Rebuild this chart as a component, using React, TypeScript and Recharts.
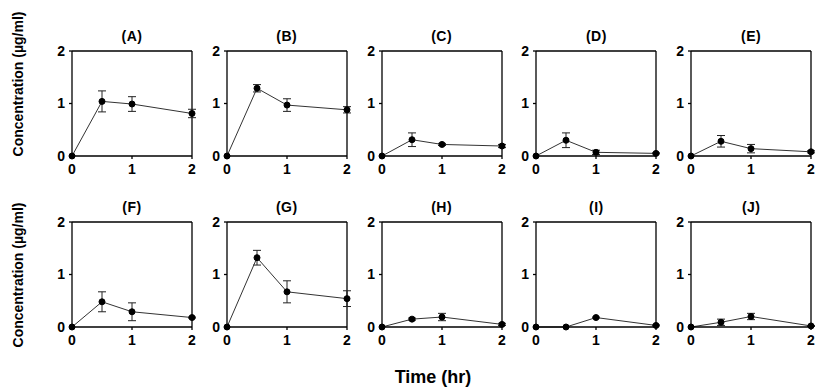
import React from "react";
import { LineChart, Line, XAxis, YAxis, ErrorBar, ReferenceLine } from "recharts";

const TIME = [0, 0.5, 1, 2];
const PANEL_TITLES = ["(A)", "(B)", "(C)", "(D)", "(E)", "(F)", "(G)", "(H)", "(I)", "(J)"];

const MEAN_A = [0, 1.04, 0.99, 0.81];
const SD_A = [0, 0.2, 0.14, 0.08];
const MEAN_B = [0, 1.29, 0.97, 0.88];
const SD_B = [0, 0.07, 0.12, 0.06];
const MEAN_C = [0, 0.31, 0.22, 0.19];
const SD_C = [0, 0.13, 0.02, 0.03];
const MEAN_D = [0, 0.3, 0.07, 0.05];
const SD_D = [0, 0.14, 0.04, 0.01];
const MEAN_E = [0, 0.28, 0.14, 0.08];
const SD_E = [0, 0.11, 0.08, 0.02];
const MEAN_F = [0, 0.48, 0.29, 0.18];
const SD_F = [0, 0.19, 0.17, 0.01];
const MEAN_G = [0, 1.32, 0.67, 0.54];
const SD_G = [0, 0.14, 0.21, 0.15];
const MEAN_H = [0, 0.15, 0.19, 0.05];
const SD_H = [0, 0.02, 0.07, 0.02];
const MEAN_I = [0, 0, 0.18, 0.03];
const SD_I = [0, 0, 0.01, 0.01];
const MEAN_J = [0, 0.09, 0.2, 0.02];
const SD_J = [0, 0.06, 0.06, 0.01];

const MEANS = [MEAN_A, MEAN_B, MEAN_C, MEAN_D, MEAN_E, MEAN_F, MEAN_G, MEAN_H, MEAN_I, MEAN_J];
const SDS = [SD_A, SD_B, SD_C, SD_D, SD_E, SD_F, SD_G, SD_H, SD_I, SD_J];

const X_TICKS = [0, 1, 2];
const Y_TICKS = [0, 1, 2];

// layout of plot areas
const PLOT_LEFT = 72;
const COL_STEP = 154.8;
const PLOT_W = 120;
const PLOT_H = 105;
const ROW_TOP = [51, 222];
const Y_AXIS_W = 40;
const TOP_PAD = 8;

const FONT = '"Liberation Sans", Arial, Helvetica, sans-serif';
const tickStyle = { fontSize: 14, fontWeight: 700, fill: "#000" };

function Panel({ index }: { index: number }) {
  const row = Math.floor(index / 5);
  const col = index % 5;
  const plotLeft = PLOT_LEFT + col * COL_STEP;
  const plotTop = ROW_TOP[row];
  const data = TIME.map((t, i) => ({
    t,
    mean: MEANS[index][i],
    sd: SDS[index][i],
  }));

  return (
    <>
      <div
        style={{
          position: "absolute",
          left: plotLeft,
          top: plotTop - 23,
          width: PLOT_W,
          textAlign: "center",
          fontSize: 14,
          fontWeight: 700,
          lineHeight: "16px",
          letterSpacing: 0.5,
        }}
      >
        {PANEL_TITLES[index]}
      </div>
      <div style={{ position: "absolute", left: plotLeft - Y_AXIS_W, top: plotTop - TOP_PAD }}>
        <LineChart
          width={Y_AXIS_W + PLOT_W + 8}
          height={TOP_PAD + PLOT_H + 27}
          data={data}
          margin={{ top: TOP_PAD, right: 8, bottom: 2, left: 0 }}
        >
          <XAxis
            dataKey="t"
            type="number"
            domain={[0, 2]}
            ticks={X_TICKS}
            tick={tickStyle}
            tickSize={3}
            tickMargin={5}
            height={25}
            stroke="#000"
            strokeWidth={1.3}
          />
          <YAxis
            type="number"
            domain={[0, 2]}
            ticks={Y_TICKS}
            tick={tickStyle}
            tickSize={3}
            tickMargin={4}
            width={Y_AXIS_W}
            stroke="#000"
            strokeWidth={1.3}
          />
          {/* top and right edges of the frame */}
          <ReferenceLine y={2} stroke="#000" strokeWidth={1.3} ifOverflow="visible" />
          <ReferenceLine x={2} stroke="#000" strokeWidth={1.3} ifOverflow="visible" />
          <Line
            dataKey="mean"
            stroke="#333"
            strokeWidth={1}
            dot={{ r: 3, fill: "#000", stroke: "#000", strokeWidth: 1 }}
            isAnimationActive={false}
          >
            <ErrorBar dataKey="sd" width={4} stroke="#222" strokeWidth={1} />
          </Line>
        </LineChart>
      </div>
    </>
  );
}

export default function App() {
  return (
    <div
      style={{
        position: "absolute",
        left: 0,
        top: 0,
        width: 827,
        height: 389,
        background: "#fff",
        fontFamily: FONT,
        color: "#000",
        overflow: "hidden",
      }}
    >
      {PANEL_TITLES.map((_, i) => (
        <Panel key={i} index={i} />
      ))}
      {[84, 275].map((cy) => (
        <div
          key={cy}
          style={{
            position: "absolute",
            left: 18 - 100,
            top: cy - 10,
            width: 200,
            height: 20,
            lineHeight: "20px",
            textAlign: "center",
            fontSize: 14,
            fontWeight: 700,
            transform: "rotate(-90deg)",
          }}
        >
          Concentration (µg/ml)
        </div>
      ))}
      <div
        style={{
          position: "absolute",
          left: 333,
          top: 366,
          width: 200,
          textAlign: "center",
          fontSize: 18,
          fontWeight: 700,
          lineHeight: "22px",
        }}
      >
        Time (hr)
      </div>
    </div>
  );
}
